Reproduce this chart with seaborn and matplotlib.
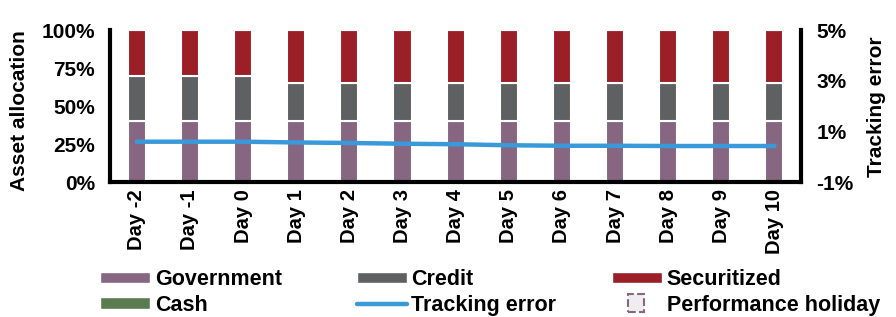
import matplotlib
matplotlib.use("Agg")
import matplotlib.pyplot as plt
import seaborn as sns
import numpy as np
from matplotlib.patches import Patch, Rectangle
from matplotlib.lines import Line2D
from matplotlib.legend_handler import HandlerPatch
from matplotlib.ticker import FuncFormatter

days = ["Day -2", "Day -1", "Day 0", "Day 1", "Day 2", "Day 3", "Day 4",
        "Day 5", "Day 6", "Day 7", "Day 8", "Day 9", "Day 10"]
government = [40, 40, 40, 40, 40, 40, 40, 40, 40, 40, 40, 40, 40]
credit = [30, 30, 30, 25, 25, 25, 25, 25, 25, 25, 25, 25, 25]
securitized = [30, 30, 30, 35, 35, 35, 35, 35, 35, 35, 35, 35, 35]
cash = [0, 0, 0, 0, 0, 0, 0, 0, 0, 0, 0, 0, 0]
tracking_error = [0.60, 0.60, 0.60, 0.57, 0.55, 0.52, 0.50, 0.46, 0.44,
                  0.44, 0.43, 0.43, 0.43]

sns.set_style("white")
plt.rcParams["font.family"] = ["Liberation Sans", "DejaVu Sans"]
plt.rcParams["font.weight"] = "bold"
plt.rcParams["text.color"] = "black"
plt.rcParams["axes.labelcolor"] = "black"
plt.rcParams["xtick.color"] = "black"
plt.rcParams["ytick.color"] = "black"

colors = {"Government": "#866680", "Credit": "#5f6061",
          "Securitized": "#9a1f26", "Cash": "#5b7a4f",
          "Tracking error": "#3a9ad9"}

fig, ax = plt.subplots(figsize=(8.96, 3.17), dpi=100)
fig.subplots_adjust(left=0.123, right=0.894, top=0.905, bottom=0.425)

bottom = np.zeros(len(days))
for name, vals in [("Government", government), ("Credit", credit),
                   ("Securitized", securitized), ("Cash", cash)]:
    sns.barplot(x=days, y=vals, bottom=bottom, color=colors[name],
                width=0.34, edgecolor="white", linewidth=1.5,
                saturation=1, ax=ax)
    bottom = bottom + np.array(vals)

ax.set_ylim(0, 100)
ax.set_xlim(-0.5, len(days) - 0.5)
ax.set_yticks([0, 25, 50, 75, 100])
ax.yaxis.set_major_formatter(FuncFormatter(lambda v, p: f"{v:.0f}%"))
ax.set_ylabel("Asset allocation", fontsize=15, fontweight="bold")
ax.yaxis.set_label_coords(-0.117, 0.47)
ax.tick_params(axis="y", labelsize=15, length=0, pad=11)
ax.tick_params(axis="x", labelsize=14.5, length=0, rotation=90, pad=5)
for lbl in ax.get_xticklabels() + ax.get_yticklabels():
    lbl.set_fontweight("bold")

ax2 = ax.twinx()
sns.lineplot(x=np.arange(len(days)), y=tracking_error,
             color=colors["Tracking error"], linewidth=3.2,
             solid_capstyle="round", ax=ax2)
ax2.set_ylim(-1, 5)
ax2.set_yticks([-1, 1, 3, 5])
ax2.yaxis.set_major_formatter(FuncFormatter(lambda v, p: f"{v:.0f}%"))
ax2.set_ylabel("Tracking error", fontsize=15, fontweight="bold", labelpad=10)
ax2.tick_params(axis="y", labelsize=15, length=0, pad=11)
for lbl in ax2.get_yticklabels():
    lbl.set_fontweight("bold")

for a in (ax, ax2):
    a.spines["top"].set_visible(False)
    for s in ("left", "bottom", "right"):
        a.spines[s].set_linewidth(3)
        a.spines[s].set_color("black")
ax.spines["right"].set_visible(False)
ax2.spines["left"].set_visible(False)
ax2.spines["bottom"].set_visible(False)


def small_box(legend, orig_handle, xdescent, ydescent, width, height, fontsize):
    s = height * 1.6
    return Rectangle((width / 2 - s / 2 - xdescent, height / 2 - s / 2 - ydescent),
                     s * 0.9, s)


columns = [
    [Patch(facecolor=colors["Government"], label="Government"),
     Patch(facecolor=colors["Cash"], label="Cash")],
    [Patch(facecolor=colors["Credit"], label="Credit"),
     Line2D([0], [0], color=colors["Tracking error"], linewidth=3.2,
            solid_capstyle="round", label="Tracking error")],
    [Patch(facecolor=colors["Securitized"], label="Securitized"),
     Patch(facecolor="#f1ecf0", edgecolor="#866680", linestyle="--",
           linewidth=1.5, label="Performance holiday")],
]
col_x = [0.1116, 0.398, 0.683]
for i, (x0, hs) in enumerate(zip(col_x, columns)):
    hmap = {hs[1]: HandlerPatch(patch_func=small_box)} if i == 2 else None
    fig.legend(handles=hs, loc="center left", bbox_to_anchor=(x0, 0.077),
               frameon=False, fontsize=15.5, handlelength=2.32,
               handleheight=0.42, handletextpad=0.22, labelspacing=0.2,
               borderpad=0, borderaxespad=0, handler_map=hmap)

fig.savefig("out.png", dpi=100)
